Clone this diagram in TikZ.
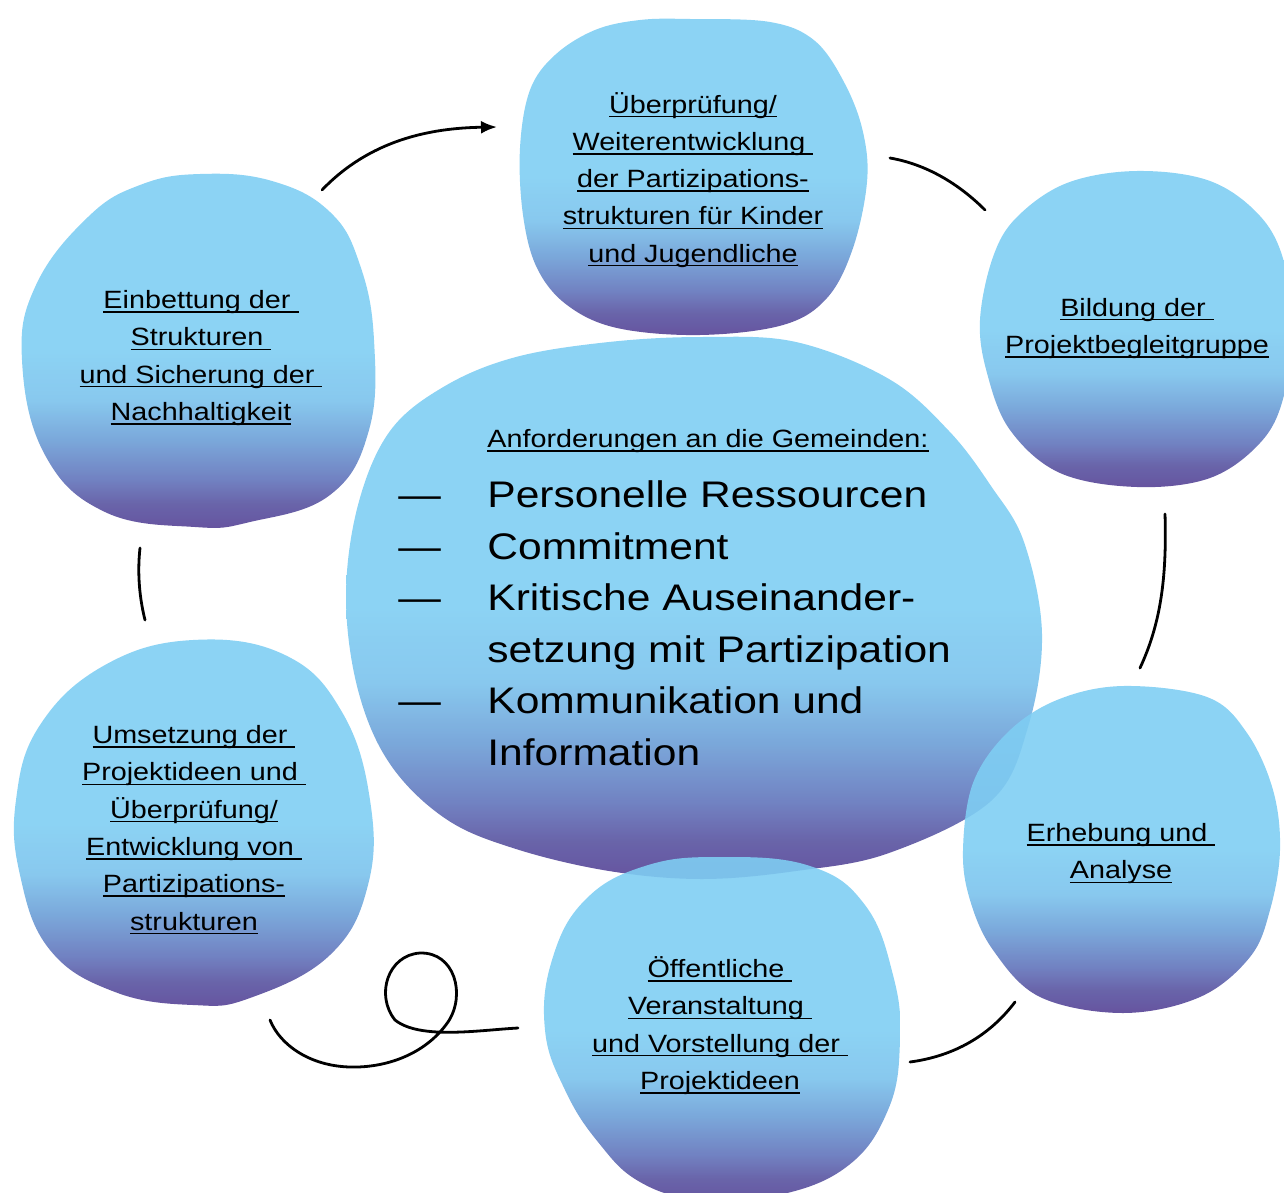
\documentclass[tikz,border=0pt]{standalone}
\usepackage{fontspec}
\setmainfont[FakeStretch=1.15]{Liberation Sans}
\usetikzlibrary{arrows.meta}

% blob colours (slightly deeper than seen, since blobs are drawn at 90% opacity)
\definecolor{blobLight}{RGB}{127,206,243}
\definecolor{blobPale}{RGB}{123,194,236}
\definecolor{blobMid}{RGB}{108,158,214}
\definecolor{blobDeep}{RGB}{98,116,187}
\definecolor{blobDusk}{RGB}{89,83,160}
\definecolor{blobPurple}{RGB}{85,65,149}

% light blue on top, turning to violet near the bottom of each blob
% (the path's bounding box spans 25bp..75bp of the shading)
\pgfdeclareverticalshading{blobfill}{100bp}{%
  color(0bp)=(blobPurple); color(25bp)=(blobPurple); color(28.5bp)=(blobDusk);
  color(32bp)=(blobDeep); color(37.5bp)=(blobMid); color(43bp)=(blobPale);
  color(50bp)=(blobLight); color(100bp)=(blobLight)}

% underline at a fixed depth below the baseline
\newsavebox\ulbox
\newcommand\ulin[1]{\sbox\ulbox{#1}\rlap{\rule[-2.1pt]{\wd\ulbox}{0.75pt}}\usebox\ulbox}

\tikzset{
  blob/.style={shading=blobfill, fill opacity=0.9, draw=none},
  blobtext/.style={font=\fontsize{12.5}{18.65}\selectfont, inner sep=0pt, anchor=base},
  bigtext/.style={font=\fontsize{18.5}{25.8}\selectfont, inner sep=0pt, anchor=base west},
  link/.style={line width=1.4pt, line cap=round},
}

\begin{document}
\begin{tikzpicture}[x=0.5pt,y=-0.5pt]
\useasboundingbox (0,0) rectangle (1284,1193);
\clip (0,0) rectangle (1284,1193);

% ---- central blob ----
\path[blob] plot[smooth cycle, tension=0.6] coordinates {
  (702,337) (796,342) (889,379) (949,431) (991,486) (1024,542) (1042,634)
  (1028,727) (991,801) (889,853) (796,871) (702,879) (609,871) (516,849)
  (446,819) (390,764) (358,690) (346,597) (358,505) (390,431) (445,386)
  (516,357) (609,342)};

% ---- surrounding blobs ----
% top
\path[blob] plot[smooth cycle, tension=0.6] coordinates {
  (690,19) (770,22) (815,41) (845,84) (863,132) (867,182) (853,248)
  (827,298) (783,325) (700,335) (617,328) (567,305) (537,268) (523,215)
  (520,148) (530,90) (555,55) (595,30) (640,20)};
% right upper
\path[blob] plot[smooth cycle, tension=0.6] coordinates {
  (1137,171) (1210,181) (1260,216) (1284,262) (1292,330) (1283,399)
  (1260,443) (1210,478) (1137,487) (1060,473) (1010,430) (987,373)
  (980,320) (993,257) (1017,217) (1067,183)};
% right lower
\path[blob] plot[smooth cycle, tension=0.6] coordinates {
  (1123,686) (1207,697) (1247,733) (1273,790) (1280,850) (1270,910)
  (1250,957) (1200,997) (1123,1013) (1040,997) (993,950) (970,900)
  (963,850) (973,783) (1007,733) (1057,700)};
% bottom
\path[blob] plot[smooth cycle, tension=0.7] coordinates {
  (720,857) (810,866) (865,905) (893,975) (900,1040) (888,1110)
  (845,1168) (770,1197) (700,1200) (640,1182) (598,1142) (565,1090)
  (545,1030) (552,960) (585,900) (645,866)};
% left lower
\path[blob] plot[smooth cycle, tension=0.7] coordinates {
  (193,640) (285,655) (342,712) (370,800) (368,885) (330,955)
  (250,998) (193,1005) (115,992) (50,950) (20,875) (16,800)
  (40,725) (105,665)};
% left upper
\path[blob] plot[smooth cycle, tension=0.7] coordinates {
  (200,174) (272,181) (330,212) (360,265) (374,340) (369,430) (330,495)
  (250,522) (195,527) (105,512) (45,455) (22,360) (36,285)
  (88,217) (140,185)};

% ---- labels ----
\node[blobtext] (check) at (693,113) {\begin{tabular}[t]{@{}c@{}}
  \ulin{Überprüfung/}\\ \ulin{Weiterentwicklung\ }\\ \ulin{der Partizipations-}\\
  \ulin{strukturen für Kinder}\\ \ulin{und Jugendliche}\end{tabular}};
\node[blobtext] (group) at (1137,316) {\begin{tabular}[t]{@{}c@{}}
  \ulin{Bildung der\ }\\ \ulin{Projektbegleitgruppe}\end{tabular}};
\node[blobtext] (survey) at (1121,841.5) {\begin{tabular}[t]{@{}c@{}}
  \ulin{Erhebung und\ }\\ \ulin{Analyse}\end{tabular}};
\node[blobtext] (event) at (720,977.5) {\begin{tabular}[t]{@{}c@{}}
  \ulin{Öffentliche\ }\\ \ulin{Veranstaltung\ }\\ \ulin{und Vorstellung der\ }\\
  \ulin{Projektideen}\end{tabular}};
\node[blobtext] (realise) at (194,743.5) {\begin{tabular}[t]{@{}c@{}}
  \ulin{Umsetzung der\ }\\ \ulin{Projektideen und\ }\\ \ulin{Überprüfung/}\\
  \ulin{Entwicklung von\ }\\ \ulin{Partizipations-}\\ \ulin{strukturen}\end{tabular}};
\node[blobtext] (embed) at (201,308.5) {\begin{tabular}[t]{@{}c@{}}
  \ulin{Einbettung der\ }\\ \ulin{Strukturen\ }\\ \ulin{und Sicherung der\ }\\
  \ulin{Nachhaltigkeit}\end{tabular}};

% central requirements
\node[blobtext, anchor=base west] (reqhead) at (487,447.5) {\ulin{Anforderungen an die Gemeinden:}};
\node[bigtext] (reqlist) at (398,507.5) {\begin{tabular}[t]{@{}p{44.5pt}@{}l@{}}
  — & Personelle Ressourcen\\
  — & Commitment\\
  — & Kritische Auseinander-\\
    & setzung mit Partizipation\\
  — & Kommunikation und\\
    & Information\end{tabular}};

% ---- connectors between the stages ----
\coordinate (a1) at (322,190);  \coordinate (a2) at (497,127);
\coordinate (b1) at (890,158);  \coordinate (b2) at (985,210);
\coordinate (c1) at (1165,514); \coordinate (c2) at (1140,668);
\coordinate (d1) at (1015,1002);\coordinate (d2) at (910,1062);
\coordinate (e1) at (518,1028); \coordinate (e2) at (270,1020);
\coordinate (f1) at (140,548);  \coordinate (f2) at (145,620);

\draw[link, -{Latex[length=8pt,width=6.5pt]}] (a1) .. controls (370,140) and (430,128) .. (a2);
\draw[link] (b1) .. controls (930,165) and (962,187) .. (b2);
\draw[link] (c1) .. controls (1167,580) and (1160,625) .. (c2);
\draw[link] (d1) .. controls (990,1035) and (955,1056) .. (d2);
\draw[link] (e1) .. controls (480,1030) and (420,1040) .. (395,1020)
  .. controls (375,995) and (388,955) .. (420,953)
  .. controls (455,952) and (466,995) .. (448,1022)
  .. controls (425,1055) and (385,1068) .. (350,1067)
  .. controls (310,1066) and (280,1045) .. (e2);
\draw[link] (f1) .. controls (137,575) and (140,600) .. (f2);
\end{tikzpicture}
\end{document}
